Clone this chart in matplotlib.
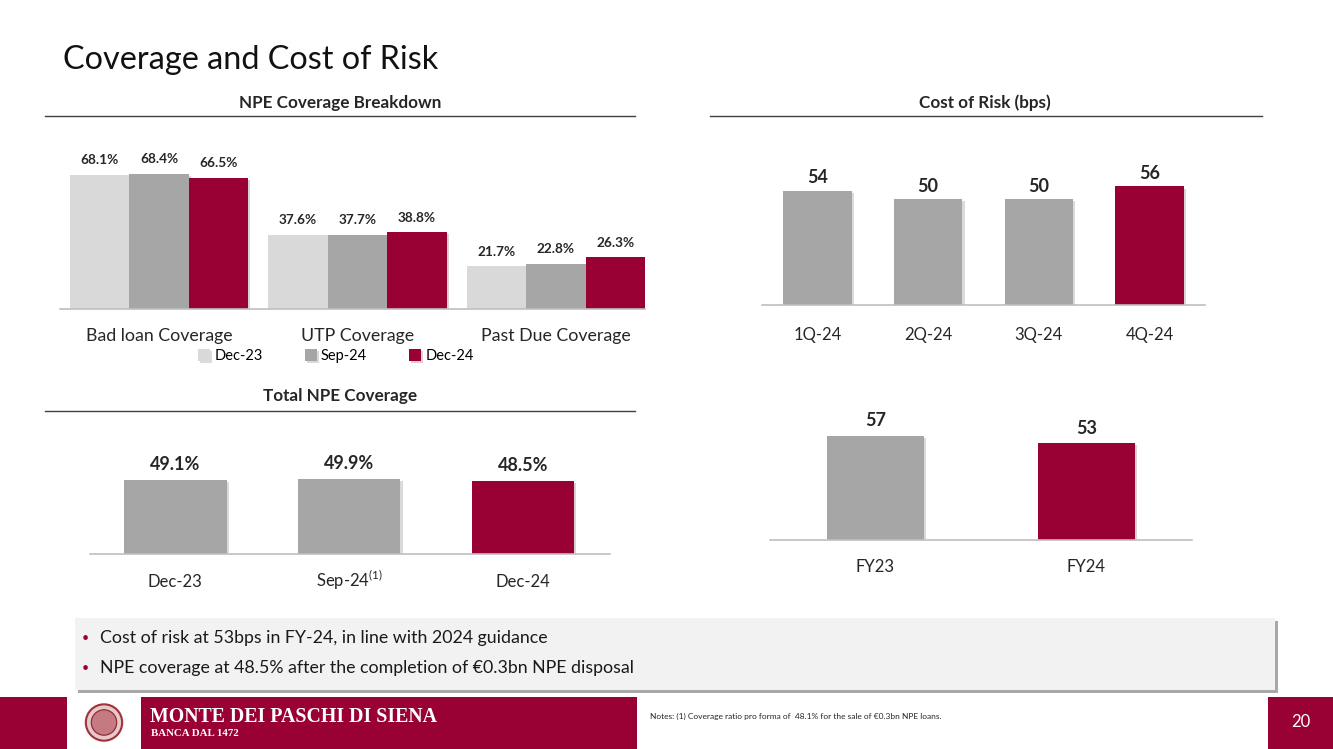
import matplotlib.pyplot as plt
from matplotlib.patches import Rectangle, Circle
import matplotlib.patheffects as pe

plt.rcParams['font.family'] = ['Lato', 'DejaVu Sans']

W, H = 1333, 749
CRIMSON = '#990033'
LIGHT = '#d9d9d9'
MID = '#a6a6a6'

# NPE coverage breakdown
cov_cats = ['Bad loan Coverage', 'UTP Coverage', 'Past Due Coverage']
cov_dec23 = [68.1, 37.6, 21.7]
cov_sep24 = [68.4, 37.7, 22.8]
cov_dec24 = [66.5, 38.8, 26.3]
cov_series = ['Dec-23', 'Sep-24', 'Dec-24']

# Cost of risk quarterly (bps)
cor_q_labels = ['1Q-24', '2Q-24', '3Q-24', '4Q-24']
cor_q_values = [54, 50, 50, 56]

# Total NPE coverage
tot_labels = ['Dec-23', 'Sep-24$^{\\mathregular{(1)}}$', 'Dec-24']
tot_values = [49.1, 49.9, 48.5]

# Cost of risk full year (bps)
cor_fy_labels = ['FY23', 'FY24']
cor_fy_values = [57, 53]

bullets = ['Cost of risk at 53bps in FY-24, in line with 2024 guidance',
           'NPE coverage at 48.5% after the completion of €0.3bn NPE disposal']


def fx(x):
    return x / W


def fy(y):
    return 1 - y / H


def box(x0, y0, x1, y1):
    # pixel box (top-left origin) -> figure rect
    return [fx(x0), fy(y1), fx(x1 - x0), (y1 - y0) / H]


def clean(ax):
    for s in ['top', 'right', 'left']:
        ax.spines[s].set_visible(False)
    ax.spines['bottom'].set_color('#bfbfbf')
    ax.spines['bottom'].set_linewidth(1.2)
    ax.set_yticks([])
    ax.tick_params(axis='x', length=0, pad=14, labelsize=12, labelcolor='#262626')
    ax.set_facecolor('none')


shadow = [pe.SimplePatchShadow(offset=(1.5, -1.5), alpha=0.18), pe.Normal()]

fig = plt.figure(figsize=(13.33, 7.49), dpi=100)

fig.text(fx(63), fy(60), 'Coverage and Cost of Risk', fontsize=23.3, va='center',
         ha='left', color='#111111')

# section titles and rules
for txt, xc, y, x0, x1, yl in [('NPE Coverage Breakdown', 340, 103, 45, 635, 116),
                                ('Cost of Risk (bps)', 985, 103, 710, 1262, 116),
                                ('Total NPE Coverage', 340, 396, 45, 635, 411)]:
    fig.text(fx(xc), fy(y), txt, fontsize=12.3, fontweight='bold', ha='center',
             va='center', color='#262626')
    fig.add_artist(plt.Line2D([fx(x0), fx(x1)], [fy(yl), fy(yl)], color='#404040', lw=1))

# chart 1: grouped bars
ax1 = fig.add_axes(box(60, 151, 645, 309))
w = 0.3
cols = [LIGHT, MID, CRIMSON]
for i, (vals, lab) in enumerate(zip([cov_dec23, cov_sep24, cov_dec24], cov_series)):
    xs = [k + (i - 1) * w for k in range(len(cov_cats))]
    bars = ax1.bar(xs, vals, width=w, color=cols[i], label=lab)
    for b in bars:
        b.set_path_effects(shadow)
    for x, v in zip(xs, vals):
        ax1.text(x, v + 4.3, f'{v:.1f}%', ha='center', va='bottom', fontsize=9.8,
                 fontweight='bold', color='#262626')
ax1.set_xlim(-0.5, 2.45)
ax1.set_ylim(0, 80)
ax1.set_xticks(range(len(cov_cats)))
ax1.set_xticklabels(cov_cats)
clean(ax1)
ax1.tick_params(axis='x', pad=14, labelsize=12.8)
fig.legend(*ax1.get_legend_handles_labels(), loc='center', bbox_to_anchor=(fx(336), fy(356)),
           ncol=3, frameon=False, fontsize=10.5, handlelength=0.8, handleheight=0.8,
           handletextpad=0.3, columnspacing=2.9, borderaxespad=0)

# chart 2: quarterly cost of risk
ax2 = fig.add_axes(box(762, 178, 1205, 305))
bars = ax2.bar(range(4), cor_q_values, width=0.62, color=[MID, MID, MID, CRIMSON])
for b in bars:
    b.set_path_effects(shadow)
for x, v in enumerate(cor_q_values):
    ax2.text(x, v + 2.0, str(v), ha='center', va='bottom', fontsize=13,
             fontweight='bold', color='#262626')
ax2.set_xlim(-0.5, 3.5)
ax2.set_ylim(0, 60)
ax2.set_xticks(range(4))
ax2.set_xticklabels(cor_q_labels)
clean(ax2)
ax2.tick_params(axis='x', pad=16)

# chart 3: total NPE coverage
ax3 = fig.add_axes(box(90, 464, 610, 554))
bars = ax3.bar(range(3), tot_values, width=0.59, color=[MID, MID, CRIMSON])
for b in bars:
    b.set_path_effects(shadow)
for x, v in enumerate(tot_values):
    ax3.text(x, v + 5, f'{v:.1f}%', ha='center', va='bottom', fontsize=13,
             fontweight='bold', color='#262626')
ax3.set_xlim(-0.49, 2.5)
ax3.set_ylim(0, 60)
ax3.set_xticks(range(3))
ax3.set_xticklabels(tot_labels)
clean(ax3)
ax3.tick_params(axis='x', pad=24)
for t in ax3.get_xticklabels():
    t.set_va('baseline')

# chart 4: FY cost of risk
ax4 = fig.add_axes(box(770, 421, 1192, 540))
bars = ax4.bar(range(2), cor_fy_values, width=0.46, color=[MID, CRIMSON])
for b in bars:
    b.set_path_effects(shadow)
for x, v in enumerate(cor_fy_values):
    ax4.text(x, v + 3.5, str(v), ha='center', va='bottom', fontsize=13,
             fontweight='bold', color='#262626')
ax4.set_xlim(-0.5, 1.5)
ax4.set_ylim(0, 65)
ax4.set_xticks(range(2))
ax4.set_xticklabels(cor_fy_labels)
clean(ax4)
ax4.tick_params(axis='x', pad=14)

# bullet box
fig.add_artist(Rectangle((fx(78), fy(693)), fx(1200), 72 / H, transform=fig.transFigure,
                         facecolor='#a8a8a8', edgecolor='none', zorder=0))
fig.add_artist(Rectangle((fx(75), fy(690)), fx(1200), 72 / H, transform=fig.transFigure,
                         facecolor='#f2f2f2', edgecolor='none', zorder=0))
for y, t in zip([638, 668], bullets):
    fig.text(fx(85), fy(y), '•', color=CRIMSON, fontsize=9, va='center', ha='center')
    fig.text(fx(100), fy(y), t, fontsize=12.8, va='center', ha='left', color='#1a1a1a')

# footer
fig.add_artist(Rectangle((0, 0), fx(67), 52 / H, transform=fig.transFigure,
                         facecolor=CRIMSON, edgecolor='none'))
fig.add_artist(Rectangle((fx(141), 0), fx(637 - 141), 52 / H, transform=fig.transFigure,
                         facecolor=CRIMSON, edgecolor='none'))
fig.add_artist(Rectangle((fx(1268), 0), fx(65), 52 / H, transform=fig.transFigure,
                         facecolor=CRIMSON, edgecolor='none'))
logo = fig.add_axes(box(84, 700, 124, 745))
logo.set_aspect('equal')
logo.add_patch(Circle((0, 0), 1, facecolor='#e8c9c9', edgecolor='#a0303a', lw=1.5))
logo.add_patch(Circle((0, 0), 0.7, facecolor='#c47a80', edgecolor='#8a2030', lw=0.8))
logo.set_xlim(-1.1, 1.1)
logo.set_ylim(-1.1, 1.1)
logo.axis('off')
fig.text(fx(150), fy(717), 'MONTE DEI PASCHI DI SIENA', family='Liberation Serif',
         fontweight='bold', fontsize=14.3, color='white', va='center', ha='left')
fig.text(fx(151), fy(733), 'BANCA DAL 1472', family='Liberation Serif',
         fontweight='bold', fontsize=7.8, color='white', va='center', ha='left')
fig.text(fx(650), fy(716), 'Notes: (1) Coverage ratio pro forma of  48.1% for the sale of €0.3bn NPE loans.',
         fontsize=6, color='#262626', va='center', ha='left')
fig.text(fx(1301), fy(722), '20', fontsize=12, color='white', va='center', ha='center')

fig.savefig('out.png', dpi=100)
